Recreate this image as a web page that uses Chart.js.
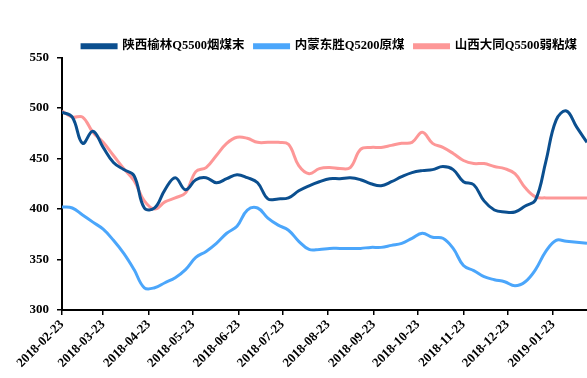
<!DOCTYPE html>
<html>
<head>
<meta charset="utf-8">
<script src="https://cdn.jsdelivr.net/npm/chart.js@4/dist/chart.umd.min.js"></script>
<style>
  html, body { margin: 0; padding: 0; background: #fff; }
  #c { display: block; }
</style>
</head>
<body>
<canvas id="c" width="587" height="378"></canvas>
<script>
// Weekly sampling dates
const dates = [
  '2018-02-23','2018-03-02','2018-03-09','2018-03-16','2018-03-23','2018-03-30',
  '2018-04-06','2018-04-13','2018-04-20','2018-04-27','2018-05-04','2018-05-11',
  '2018-05-18','2018-05-25','2018-06-01','2018-06-08','2018-06-15','2018-06-22',
  '2018-06-29','2018-07-06','2018-07-13','2018-07-20','2018-07-27','2018-08-03',
  '2018-08-10','2018-08-17','2018-08-24','2018-08-31','2018-09-07','2018-09-14',
  '2018-09-21','2018-09-28','2018-10-05','2018-10-12','2018-10-19','2018-10-26',
  '2018-11-02','2018-11-09','2018-11-16','2018-11-23','2018-11-30','2018-12-07',
  '2018-12-14','2018-12-21','2018-12-28','2019-01-04','2019-01-11','2019-01-18',
  '2019-01-25','2019-02-01','2019-02-08','2019-02-15'
];

// Axis tick dates
const tickDates = [
  '2018-02-23','2018-03-23','2018-04-23','2018-05-23','2018-06-23','2018-07-23',
  '2018-08-23','2018-09-23','2018-10-23','2018-11-23','2018-12-23','2019-01-23'
];
const yTicks = [300, 350, 400, 450, 500, 550];

// 陕西榆林Q5500烟煤末
const yulin = [
  496, 491, 465, 477, 461, 446, 439, 433, 401, 401, 419, 431,
  419, 429, 431, 426, 430, 434, 431, 426, 410, 410, 411, 418,
  423, 427, 430, 430, 431, 429, 425, 423, 427, 432, 436, 438,
  439, 442, 439, 427, 424, 408, 399, 397, 397, 403, 409, 447,
  488, 497, 481, 466
];
// 内蒙东胜Q5200原煤
const dongsheng = [
  402, 401, 394, 387, 380, 369, 356, 340, 322, 322, 327, 332,
  340, 352, 358, 366, 376, 383, 399, 401, 391, 384, 379, 368,
  360, 360, 361, 361, 361, 361, 362, 362, 364, 366, 371, 376,
  372, 371, 361, 344, 339, 333, 330, 328, 324, 328, 340, 358,
  369, 368, 367, 366
];
// 山西大同Q5500弱粘煤
const datong = [
  497, 491, 491, 476, 466, 453, 440, 428, 408, 400, 407, 411,
  416, 437, 441, 453, 465, 471, 470, 466, 466, 466, 464, 443,
  435, 440, 441, 440, 441, 459, 461, 461, 463, 465, 466, 476,
  465, 461, 455, 448, 445, 445, 442, 440, 435, 421, 412, 411,
  411, 411, 411, 411
];

const seriesNames = ['陕西榆林Q5500烟煤末', '内蒙东胜Q5200原煤', '山西大同Q5500弱粘煤'];
const seriesColors = ['#0b4f8f', '#4ba6fb', '#fd9797'];

const DAY = 86400000;
const dayOf = s => { const [y, m, d] = s.split('-').map(Number); return Date.UTC(y, m - 1, d) / DAY; };
const day0 = dayOf(dates[0]);
const xs = dates.map(s => dayOf(s) - day0);
const tickXs = tickDates.map(s => dayOf(s) - day0);
const pts = vals => vals.map((v, i) => ({ x: xs[i], y: v }));

const FONT = "'Liberation Serif', 'Times New Roman', 'Noto Sans CJK SC', serif";

const mkSet = (i, vals) => ({
  label: seriesNames[i],
  data: pts(vals),
  borderColor: seriesColors[i],
  backgroundColor: seriesColors[i],
  borderWidth: 3,
  pointRadius: 0,
  tension: 0.4,
  fill: false
});

// Trim the legend's bottom padding so the plot sits close under it
const legendTrim = {
  id: 'legendTrim',
  beforeLayout(chart) {
    const lg = chart.legend;
    if (lg && !lg._trimmed) {
      const fit = lg.fit.bind(lg);
      lg.fit = function () { fit(); this.height -= 5; };
      lg._trimmed = true;
    }
  }
};

new Chart(document.getElementById('c'), {
  type: 'line',
  data: {
    datasets: [mkSet(0, yulin), mkSet(1, dongsheng), mkSet(2, datong)]
  },
  plugins: [legendTrim],
  options: {
    responsive: false,
    animation: false,
    layout: { padding: { top: 30, left: 0, right: 0, bottom: 0 } },
    plugins: {
      tooltip: { enabled: false },
      legend: {
        position: 'top',
        align: 'end',
        labels: {
          boxWidth: 34,
          boxHeight: 3,
          padding: 10,
          color: '#000',
          font: { family: FONT, size: 12.5, weight: 'bold' }
        }
      }
    },
    scales: {
      x: {
        type: 'linear',
        min: 0,
        max: xs[xs.length - 1],
        afterBuildTicks: s => { s.ticks = tickXs.map(v => ({ value: v })); },
        afterFit: s => { s.height = 68; },
        grid: { display: true, drawOnChartArea: false, drawTicks: true, tickLength: 5, color: '#000', lineWidth: 1.5 },
        border: { display: true, color: '#000', width: 2 },
        ticks: {
          autoSkip: false,
          minRotation: 45,
          maxRotation: 45,
          padding: 2,
          color: '#000',
          font: { family: FONT, size: 13, weight: 'bold' },
          callback: v => { const k = tickXs.indexOf(v); return k >= 0 ? tickDates[k] : ''; }
        }
      },
      y: {
        min: 300,
        max: 550,
        afterBuildTicks: s => { s.ticks = yTicks.map(v => ({ value: v })); },
        afterFit: s => { s.width = 62; },
        grid: { display: true, drawOnChartArea: false, drawTicks: true, tickLength: 5, color: '#000', lineWidth: 1.5 },
        border: { display: true, color: '#000', width: 2 },
        ticks: {
          padding: 8,
          color: '#000',
          font: { family: FONT, size: 13, weight: 'bold' }
        }
      }
    }
  }
});
</script>
</body>
</html>
